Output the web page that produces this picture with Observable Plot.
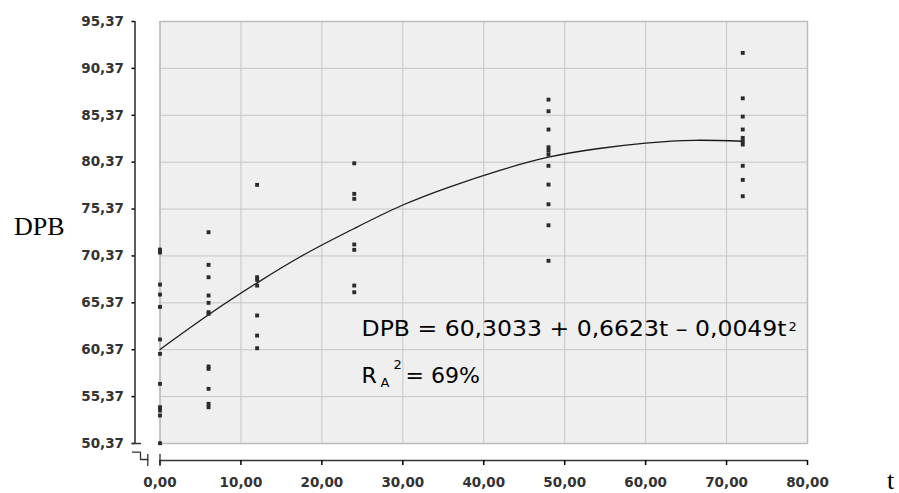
<!DOCTYPE html>
<html>
<head>
<meta charset="utf-8">
<script src="https://cdn.jsdelivr.net/npm/d3@7"></script>
<script src="https://cdn.jsdelivr.net/npm/@observablehq/plot@0.6"></script>
<style>
  html, body { margin: 0; padding: 0; background: #fff; }
  #chart svg { display: block; }
</style>
</head>
<body>
<div id="chart"></div>
<script>
// ---- data ----
const groupTimes = [0, 6, 12, 24, 48, 72];
const dpbAt0  = [71.05, 70.73, 67.32, 66.25, 64.94, 61.46, 59.93, 56.73, 54.24, 53.89, 53.36, 50.40];
const dpbAt6  = [72.90, 69.42, 68.10, 66.15, 65.37, 64.37, 64.20, 58.58, 58.33, 56.20, 54.60, 54.24];
const dpbAt12 = [77.95, 68.10, 67.82, 67.21, 64.02, 61.88, 60.53];
const dpbAt24 = [80.25, 76.99, 76.46, 71.59, 71.02, 67.21, 66.50];
const dpbAt48 = [87.04, 85.80, 83.85, 81.96, 81.60, 81.18, 79.98, 77.98, 75.88, 73.64, 69.85];
const dpbAt72 = [92.02, 87.18, 85.23, 83.85, 82.96, 82.60, 82.25, 79.98, 78.48, 76.74];

// fitted quadratic curve
const fitT   = [0, 6, 12, 18, 24, 30, 36, 42, 48, 54, 60, 66, 72];
const fitDPB = [60.4, 64.1, 67.5, 70.6, 73.3, 75.8, 77.8, 79.5, 80.9, 81.8, 82.4, 82.7, 82.6];

const xTicks = [0, 10, 20, 30, 40, 50, 60, 70, 80];
const yTicks = [50.37, 55.37, 60.37, 65.37, 70.37, 75.37, 80.37, 85.37, 90.37, 95.37];

const equationText = "DPB = 60,3033 + 0,6623t \u2013 0,0049t";
const r2Text = "= 69%";

// ---- build tables ----
const groups = [dpbAt0, dpbAt6, dpbAt12, dpbAt24, dpbAt48, dpbAt72];
const points = groups.flatMap((vals, i) => vals.map(v => ({t: groupTimes[i], dpb: v})));
const curve = fitT.map((t, i) => ({t, dpb: fitDPB[i]}));

const fmt = d => d.toFixed(2).replace(".", ",");
const yMin = yTicks[0], yMax = yTicks[yTicks.length - 1];
const xMin = xTicks[0], xMax = xTicks[xTicks.length - 1];

const W = 899, H = 493;
const mL = 159.5, mR = 92, mT = 21, mB = 50;
// pixel -> data unit helpers for the small axis-break decorations
const ux = (xMax - xMin) / (W - mL - mR);
const uy = (yMax - yMin) / (H - mT - mB);

const axisFont = "DejaVu Sans, sans-serif";
const axisColor = "#333";
const axisLineColor = "#000";
const eqT = 24.9, eqV = 61.88;   // equation anchor (data coordinates)

const breakPath = [
  {t: -27.5 * ux, dpb: yMin - 8.7 * uy},
  {t: -19.5 * ux, dpb: yMin - 8.7 * uy},
  {t: -19.5 * ux, dpb: yMin - 16 * uy},
  {t: -12.2 * ux, dpb: yMin - 16 * uy}
];
const yCap = [{t: -27.5 * ux, dpb: yMin}, {t: -19.5 * ux, dpb: yMin}];
const xCap0 = [{t: xMin, dpb: yMin - 11 * uy}, {t: xMin, dpb: yMin - 22 * uy}];
const xCap1 = [{t: -12.2 * ux, dpb: yMin - 11 * uy}, {t: -12.2 * ux, dpb: yMin - 22 * uy}];
const decoOpts = {x: "t", y: "dpb", stroke: axisColor, strokeWidth: 1.3};

const chart = Plot.plot({
  width: W, height: H,
  marginLeft: mL, marginRight: mR, marginTop: mT, marginBottom: mB,
  style: {background: "#fff", fontFamily: axisFont},
  x: {domain: [xMin, xMax], axis: null},
  y: {domain: [yMin, yMax], axis: null},
  marks: [
    Plot.frame({fill: "#efefef", stroke: null}),
    Plot.gridX(xTicks, {stroke: "#c6c6c6", strokeOpacity: 1, strokeWidth: 1}),
    Plot.gridY(yTicks, {stroke: "#c6c6c6", strokeOpacity: 1, strokeWidth: 1}),
    Plot.frame({stroke: "#bdbdbd", strokeWidth: 1.5}),

    // y axis, offset 25px to the left of the plot area
    Plot.ruleX([xMin], {dx: -25, stroke: axisLineColor, strokeWidth: 1.6, strokeOpacity: 0.8}),
    Plot.axisY(yTicks, {
      anchor: "left", dx: -25, tickSize: 3, tickPadding: 8, label: null, strokeWidth: 1.5,
      tickFormat: fmt, fontSize: 13.5, fontWeight: "bold", fill: axisColor, stroke: axisLineColor,
      fontFamily: axisFont
    }),
    // x axis, offset 17px below the plot area
    Plot.ruleY([yMin], {dy: 17, stroke: axisLineColor, strokeWidth: 1.6, strokeOpacity: 0.8}),
    Plot.axisX(xTicks, {
      anchor: "bottom", dy: 17, tickSize: 5, tickPadding: 12, label: null, strokeWidth: 1.5,
      tickFormat: fmt, fontSize: 13.5, fontWeight: "bold", fill: axisColor, stroke: axisLineColor,
      fontFamily: axisFont
    }),
    // axis end caps and break symbol
    Plot.line(xCap0, decoOpts),
    Plot.line(xCap1, decoOpts),
    Plot.line(yCap, decoOpts),
    Plot.line(breakPath, decoOpts),

    // fitted curve
    Plot.line(curve, {x: "t", y: "dpb", curve: "natural", stroke: "#1a1a1a", strokeWidth: 1.3}),
    // observations
    Plot.dot(points, {x: "t", y: "dpb", symbol: "square", r: 2.2, fill: "#2b2b2b", stroke: null}),

    // equation annotation
    Plot.text([equationText], {x: eqT, y: eqV, text: d => d, textAnchor: "start", lineAnchor: "bottom",
      fontSize: 22, fill: "#000", fontFamily: "DejaVu Sans, sans-serif"}),
    Plot.text(["2"], {x: eqT, y: eqV, text: d => d, dx: 427, dy: -5, textAnchor: "start", lineAnchor: "bottom",
      fontSize: 13, fill: "#000", fontFamily: "DejaVu Sans, sans-serif"}),
    Plot.text(["R"], {x: eqT, y: eqV, text: d => d, dy: 47, textAnchor: "start", lineAnchor: "bottom",
      fontSize: 22, fill: "#000", fontFamily: "DejaVu Sans, sans-serif"}),
    Plot.text(["A"], {x: eqT, y: eqV, text: d => d, dx: 19, dy: 51, textAnchor: "start", lineAnchor: "bottom",
      fontSize: 13, fill: "#000", fontFamily: "DejaVu Sans, sans-serif"}),
    Plot.text(["2"], {x: eqT, y: eqV, text: d => d, dx: 32, dy: 33, textAnchor: "start", lineAnchor: "bottom",
      fontSize: 13, fill: "#000", fontFamily: "DejaVu Sans, sans-serif"}),
    Plot.text([r2Text], {x: eqT, y: eqV, text: d => d, dx: 44, dy: 47, textAnchor: "start", lineAnchor: "bottom",
      fontSize: 22, fill: "#000", fontFamily: "DejaVu Sans, sans-serif"}),

    // axis titles
    Plot.text(["DPB"], {frameAnchor: "left", text: d => d, dx: -146, dy: -6, textAnchor: "start",
      fontSize: 26, fill: "#000", fontFamily: "Liberation Serif, serif"}),
    Plot.text(["t"], {frameAnchor: "bottom-right", text: d => d, dx: 83, dy: 45, textAnchor: "middle",
      fontSize: 26, fill: "#000", fontFamily: "Liberation Serif, serif"})
  ]
});

// stretch the equation to the width it has in the reference
d3.select(chart).selectAll("text")
  .filter(function () { return this.textContent === equationText; })
  .attr("textLength", 425).attr("lengthAdjust", "spacingAndGlyphs");

document.getElementById("chart").appendChild(chart);
</script>
</body>
</html>
